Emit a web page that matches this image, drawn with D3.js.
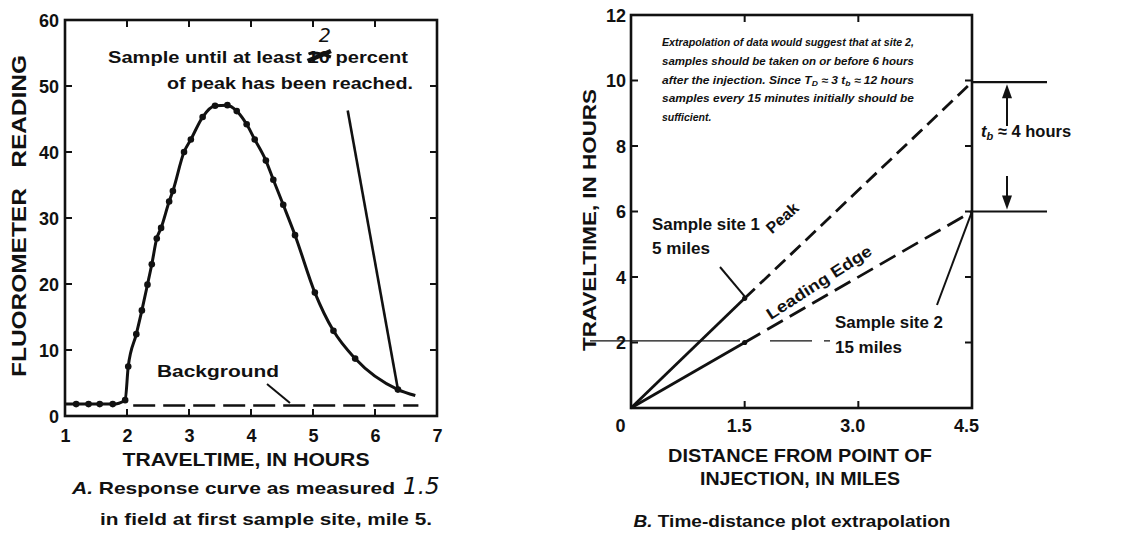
<!DOCTYPE html>
<html><head><meta charset="utf-8">
<script src="https://cdn.jsdelivr.net/npm/d3@7"></script>
<style>
body{margin:0;background:#fff}
svg{display:block}
text{font-family:"Liberation Sans",Arial,Helvetica,sans-serif;fill:#111}
.hand{font-family:"DejaVu Sans",sans-serif;font-style:italic;font-weight:normal}
</style>
</head><body>
<svg id="fig" width="1147" height="533"></svg>
<script>
// ---- Panel A: response curve measured at the first sample site ----
const sampleTimes = [1.18, 1.38, 1.56, 1.77, 1.97, 2.02, 2.15, 2.24, 2.33, 2.40, 2.48, 2.55, 2.68, 2.74,
  2.92, 3.03, 3.22, 3.42, 3.62, 3.77, 3.93, 4.06, 4.24, 4.36, 4.52, 4.71, 5.03, 5.33, 5.68, 6.37];
const readings = [1.8, 1.8, 1.8, 1.8, 2.4, 7.5, 12.4, 16.0, 19.9, 23.0, 26.9, 28.5, 32.5, 34.1,
  40.0, 41.9, 45.3, 47.0, 47.1, 46.2, 44.2, 41.9, 38.7, 35.8, 32.0, 27.4, 18.7, 12.9, 8.7, 4.0];
const curveStart = [1.0, 1.8];
const curveEnd = [6.65, 3.1];
const backgroundLevel = 1.6;
const backgroundSpan = [2.1, 6.7];
const pointerFrom = [5.56, 46.3];
const timeTicks = [1, 2, 3, 4, 5, 6, 7];
const readingTicks = [0, 10, 20, 30, 40, 50, 60];

// ---- Panel B: time-distance extrapolation ----
const siteDistance = [0, 5, 15];
const peakTime = [0, 3.35, 9.95];
const edgeTime = [0, 2.0, 6.0];
const distanceTicks = [0, 5, 10, 15];
const distanceTickLabels = ["0", "1.5", "3.0", "4.5"];
const hourTicks = [2, 4, 6, 8, 10, 12];
const noteLines = [
  "Extrapolation of data would suggest that at site 2,",
  "samples should be taken on or before 6 hours",
  "after the injection. Since T_D ≈ 3 t_b ≈ 12 hours",
  "samples every 15 minutes initially should be",
  "sufficient."
];

const svg = d3.select("#fig");
const ink = "#111";

function frameAxes(g, x, y, xt, yt, len) {
  const [x0, x1] = x.range(), [y0, y1] = y.range();
  g.append("rect").attr("x", x0).attr("y", y1).attr("width", x1 - x0).attr("height", y0 - y1)
    .attr("fill", "none").attr("stroke", ink).attr("stroke-width", 2.6);
  const inner = xt.slice(1, -1);
  g.selectAll(null).data(inner).join("line")
    .attr("x1", d => x(d)).attr("x2", d => x(d)).attr("y1", y0).attr("y2", y0 - len)
    .attr("stroke", ink).attr("stroke-width", 2);
  g.selectAll(null).data(inner).join("line")
    .attr("x1", d => x(d)).attr("x2", d => x(d)).attr("y1", y1).attr("y2", y1 + len)
    .attr("stroke", ink).attr("stroke-width", 2);
  g.selectAll(null).data(yt).join("line")
    .attr("x1", x0).attr("x2", x0 + len).attr("y1", d => y(d)).attr("y2", d => y(d))
    .attr("stroke", ink).attr("stroke-width", 2);
  g.selectAll(null).data(yt).join("line")
    .attr("x1", x1).attr("x2", x1 - len).attr("y1", d => y(d)).attr("y2", d => y(d))
    .attr("stroke", ink).attr("stroke-width", 2);
}

function styleAxis(a) {
  a.select(".domain").remove();
  a.selectAll("text").attr("font-size", 18).attr("font-weight", "bold")
    .attr("font-family", '"Liberation Sans",Arial,sans-serif').attr("fill", ink);
}

function label(g, x, y, s, opt = {}) {
  const t = g.append("text").attr("x", x).attr("y", y).attr("font-size", opt.size || 16)
    .attr("font-weight", opt.weight || "bold").attr("text-anchor", opt.anchor || "start").text(s);
  if (opt.len) t.attr("textLength", opt.len).attr("lengthAdjust", "spacingAndGlyphs");
  return t;
}

// =================== Panel A ===================
{
  const x = d3.scaleLinear().domain([1, 7]).range([65, 437]);
  const y = d3.scaleLinear().domain([0, 60]).range([416, 20]);
  const g = svg.append("g");

  frameAxes(g, x, y, timeTicks, readingTicks.slice(1, -1), 7);

  const ax = g.append("g").attr("transform", `translate(0,${y.range()[0]})`)
    .call(d3.axisBottom(x).tickValues(timeTicks).tickFormat(d3.format("d")).tickSize(0).tickPadding(12));
  const ay = g.append("g").attr("transform", `translate(${x.range()[0]},0)`)
    .call(d3.axisLeft(y).tickValues(readingTicks).tickFormat(d3.format("d")).tickSize(0).tickPadding(6));
  styleAxis(ax); styleAxis(ay);
  ax.selectAll("text").attr("dy", "0.8em");
  ay.selectAll("text").attr("dy", "0.36em");

  // background level
  g.append("line").attr("x1", x(backgroundSpan[0])).attr("x2", x(backgroundSpan[1]))
    .attr("y1", y(backgroundLevel)).attr("y2", y(backgroundLevel))
    .attr("stroke", ink).attr("stroke-width", 2.6).attr("stroke-dasharray", "22,8");

  // response curve
  const pts = [curveStart, ...sampleTimes.map((t, i) => [t, readings[i]]), curveEnd];
  g.append("path").datum(pts)
    .attr("d", d3.line().x(d => x(d[0])).y(d => y(d[1])).curve(d3.curveMonotoneX))
    .attr("fill", "none").attr("stroke", ink).attr("stroke-width", 3);
  g.selectAll(null).data(sampleTimes).join("circle")
    .attr("cx", d => x(d)).attr("cy", (d, i) => y(readings[i])).attr("r", 3.3).attr("fill", ink);

  // pointer from the note to the last sample
  const last = sampleTimes.length - 1;
  g.append("line").attr("x1", x(pointerFrom[0])).attr("y1", y(pointerFrom[1]))
    .attr("x2", x(sampleTimes[last])).attr("y2", y(readings[last]))
    .attr("stroke", ink).attr("stroke-width", 2.6);

  // note
  const note1 = g.append("text").attr("x", 108).attr("y", 63).attr("font-size", 16)
    .attr("font-weight", "bold").attr("textLength", 300).attr("lengthAdjust", "spacingAndGlyphs");
  note1.append("tspan").text("Sample until at least ");
  note1.append("tspan").text("10");
  note1.append("tspan").text(" percent");
  label(g, 413, 89, "of peak has been reached.", {anchor: "end", len: 246});
  const sn = note1.node();
  const s0 = sn.getStartPositionOfChar(22), s1 = sn.getEndPositionOfChar(23);
  g.append("path").attr("d", `M${s0.x},${s0.y - 2} L${s1.x + 1},${s0.y - 12}`)
    .attr("stroke", ink).attr("stroke-width", 4.5);
  g.append("path").attr("d", `M${s0.x + 1},${s0.y - 9} q6,-3 ${s1.x - s0.x},3`)
    .attr("fill", "none").attr("stroke", ink).attr("stroke-width", 3);
  g.append("text").attr("class", "hand").attr("x", (s0.x + s1.x) / 2 + 6).attr("y", 42)
    .attr("font-size", 19).attr("text-anchor", "middle").text("2");

  // background label
  label(g, 218, 377, "Background", {anchor: "middle", len: 122});
  g.append("line").attr("x1", 267).attr("y1", 384).attr("x2", 290).attr("y2", 403)
    .attr("stroke", ink).attr("stroke-width", 2);

  // axis titles
  g.append("text").attr("transform", "translate(26,216) rotate(-90)").attr("text-anchor", "middle")
    .attr("font-size", 21).attr("font-weight", "bold").attr("textLength", 322)
    .attr("lengthAdjust", "spacingAndGlyphs").attr("xml:space", "preserve").text("FLUOROMETER   READING");
  label(g, 246, 466, "TRAVELTIME, IN HOURS", {anchor: "middle", size: 19, len: 247});

  // caption
  const c1 = g.append("text").attr("x", 72).attr("y", 494).attr("font-size", 17).attr("font-weight", "bold")
    .attr("textLength", 323).attr("lengthAdjust", "spacingAndGlyphs");
  c1.append("tspan").attr("font-style", "italic").text("A.");
  c1.append("tspan").text(" Response curve as measured");
  label(g, 100, 525, "in field at first sample site, mile 5.", {size: 17, len: 332});
  g.append("text").attr("class", "hand").attr("x", 403).attr("y", 494).attr("font-size", 23).text("1.5");
}

// =================== Panel B ===================
{
  const x = d3.scaleLinear().domain([0, 15]).range([631, 972]);
  const y = d3.scaleLinear().domain([0, 12]).range([408, 15]);
  const g = svg.append("g");

  frameAxes(g, x, y, distanceTicks, hourTicks.slice(0, -1), 7);

  const ax = g.append("g").attr("transform", `translate(0,${y.range()[0]})`)
    .call(d3.axisBottom(x).tickValues(distanceTicks).tickSize(0).tickPadding(10)
      .tickFormat((d, i) => distanceTickLabels[i]));
  const ay = g.append("g").attr("transform", `translate(${x.range()[0]},0)`)
    .call(d3.axisLeft(y).tickValues(hourTicks).tickFormat(d3.format("d")).tickSize(0).tickPadding(5));
  styleAxis(ax); styleAxis(ay);
  ax.selectAll("text").attr("dy", "0.8em").attr("dx", (d, i) => i === 0 ? -11 : -6);
  ay.selectAll("text").attr("dy", "0.36em");

  // horizontal guide near 2 hours
  g.append("line").attr("x1", 590).attr("x2", 830).attr("y1", y(2.05)).attr("y2", y(2.05))
    .attr("stroke", ink).attr("stroke-width", 1.2).attr("stroke-dasharray", "150,30,42,12,6,30");

  const line = d3.line().x(d => x(d[0])).y(d => y(d[1]));
  const seg = (times, a, b) => siteDistance.slice(a, b + 1).map((d, i) => [d, times[a + i]]);
  [[peakTime, "14,7"], [edgeTime, "18,8"]].forEach(([t, dash]) => {
    g.append("path").attr("d", line(seg(t, 0, 1))).attr("fill", "none")
      .attr("stroke", ink).attr("stroke-width", 2.8);
    g.append("path").attr("d", line(seg(t, 1, 2))).attr("fill", "none")
      .attr("stroke", ink).attr("stroke-width", 2.8).attr("stroke-dasharray", dash);
    g.append("circle").attr("cx", x(siteDistance[1])).attr("cy", y(t[1])).attr("r", 2.6).attr("fill", ink);
  });

  // line labels
  g.append("text").attr("transform", "translate(786,222) rotate(-42)").attr("text-anchor", "middle")
    .attr("font-size", 16).attr("font-weight", "bold").text("Peak");
  g.append("text").attr("transform", "translate(822,287) rotate(-33)").attr("text-anchor", "middle")
    .attr("font-size", 16).attr("font-weight", "bold").attr("textLength", 122)
    .attr("lengthAdjust", "spacingAndGlyphs").text("Leading Edge");

  // site labels with leaders
  label(g, 652, 230, "Sample site 1", {size: 16.5, len: 108});
  label(g, 652, 254, "5 miles", {size: 16.5, len: 58});
  label(g, 835, 328, "Sample site 2", {size: 16.5, len: 108});
  label(g, 835, 353, "15 miles", {size: 16.5, len: 67});
  g.append("line").attr("x1", 720).attr("y1", 267).attr("x2", x(siteDistance[1])).attr("y2", y(peakTime[1]) - 2)
    .attr("stroke", ink).attr("stroke-width", 2);
  g.append("line").attr("x1", 937).attr("y1", 305).attr("x2", x(siteDistance[2])).attr("y2", y(edgeTime[2]))
    .attr("stroke", ink).attr("stroke-width", 2);

  // time-of-passage bracket
  const bx = 1007, yTop = y(peakTime[2]), yBot = y(edgeTime[2]);
  [yTop, yBot].forEach(v => g.append("line").attr("x1", x.range()[1]).attr("x2", 1047)
    .attr("y1", v).attr("y2", v).attr("stroke", ink).attr("stroke-width", 2.2));
  g.append("line").attr("x1", bx).attr("x2", bx).attr("y1", yTop + 12).attr("y2", 126)
    .attr("stroke", ink).attr("stroke-width", 2);
  g.append("line").attr("x1", bx).attr("x2", bx).attr("y1", 176).attr("y2", yBot - 12)
    .attr("stroke", ink).attr("stroke-width", 2);
  g.append("path").attr("d", `M${bx},${yTop + 2} l-5,14 l10,0 z`).attr("fill", ink);
  g.append("path").attr("d", `M${bx},${yBot - 2} l-5,-14 l10,0 z`).attr("fill", ink);
  const tb = g.append("text").attr("x", 981).attr("y", 137).attr("font-size", 16.5).attr("font-weight", "bold");
  tb.append("tspan").attr("font-style", "italic").text("t");
  tb.append("tspan").attr("font-style", "italic").attr("font-size", 11).attr("dy", 3).text("b");
  tb.append("tspan").attr("dy", -3).text(" ≈ 4 hours");

  // note block, justified; X_y marks a subscript
  noteLines.forEach((s, i) => {
    const t = g.append("text").attr("x", 662).attr("y", 46 + i * 18.8).attr("font-size", 10.5)
      .attr("font-style", "italic").attr("font-weight", "bold");
    s.split(/([A-Za-z])_([A-Za-z])/).forEach((p, k) => {
      if (k % 3 === 2) t.append("tspan").attr("font-size", 7.5).attr("dy", 2).text(p);
      else t.append("tspan").attr("dy", k % 3 === 0 && k > 0 ? -2 : 0).text(p);
    });
    if (i < noteLines.length - 1) t.attr("textLength", 252).attr("lengthAdjust", "spacingAndGlyphs");
  });

  // axis titles and caption
  g.append("text").attr("transform", "translate(596,220) rotate(-90)").attr("text-anchor", "middle")
    .attr("font-size", 19).attr("font-weight", "bold").attr("textLength", 262)
    .attr("lengthAdjust", "spacingAndGlyphs").text("TRAVELTIME, IN HOURS");
  label(g, 800, 462, "DISTANCE FROM POINT OF", {anchor: "middle", size: 18, len: 264});
  label(g, 800, 485, "INJECTION, IN MILES", {anchor: "middle", size: 18, len: 200});
  const cb = g.append("text").attr("x", 792).attr("y", 527).attr("text-anchor", "middle").attr("font-size", 16.5)
    .attr("font-weight", "bold").attr("textLength", 317).attr("lengthAdjust", "spacingAndGlyphs");
  cb.append("tspan").attr("font-style", "italic").text("B.");
  cb.append("tspan").text(" Time-distance plot extrapolation");
}
</script>
</body></html>
